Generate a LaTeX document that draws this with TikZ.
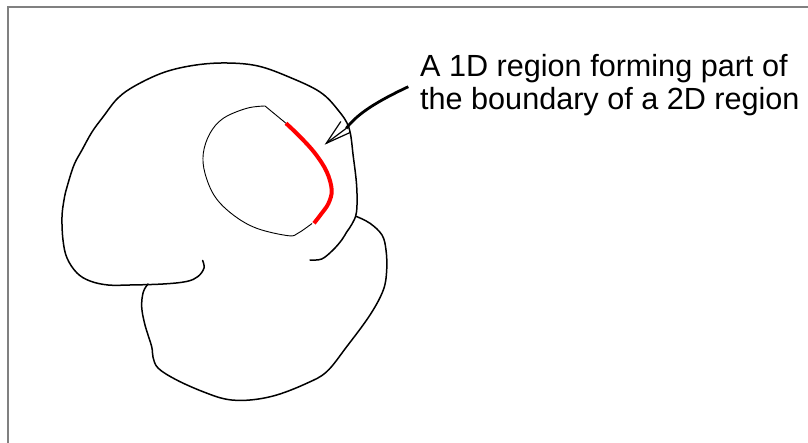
\documentclass[tikz,border=0pt]{standalone}
\usepackage{fontspec}
\setmainfont{Liberation Sans}
\begin{document}
\begin{tikzpicture}[x=1pt,y=-1pt,
  frameline/.style={draw=black!50,line width=2pt},
  blob/.style={draw=black,line width=1.5pt,line join=round,line cap=round},
  thinline/.style={draw=black,line width=0.9pt,line join=round},
  boundary/.style={draw=red,line width=4pt},
  shaft/.style={draw=black,line width=2.8pt},
  head/.style={draw=black,line width=1.2pt,line cap=round},
  lbl/.style={inner sep=0pt,align=left,font=\fontsize{30.6}{33}\selectfont}]
\useasboundingbox (0,0) rectangle (808,443);
\fill[white] (0,0) rectangle (808,443);
% frame
\draw[frameline] (8,443) -- (8,7) -- (808,7);
% upper blob
\draw[blob] plot[smooth,tension=0.6] coordinates {
 (202.6,260.5) (204,268) (198,276.5) (186.5,281.5) (163,284) (130,285) (108,285)
 (90,281) (77,273) (67,258) (63,240) (62,217) (64,200) (67,187) (74,165) (82,150)
 (92,132) (103,117) (118,98) (136.5,85) (165,72) (196,65) (227,63) (258,66) (289,77)
 (320,92) (338,110) (349,128) (353.3,156.7) (356.7,186.7) (356.5,212) (352,224)
 (346.7,232) (341.7,240) (333,250) (321.7,259) (310,260)};
% lower blob
\draw[blob] plot[smooth,tension=0.6] coordinates {
 (148,284) (143.3,292) (141.7,307) (145,325) (151.7,346.7) (153,357) (158.3,368.3)
 (176.7,380) (203,391.7) (226.7,399.3) (250,400) (276.7,395) (306.7,383.3)
 (326.7,371.7) (346.7,346.7) (370,315) (383.3,290) (386.7,270) (386,250) (382,235)
 (370,223.3) (356.5,216.5)};
% inner region
\draw[thinline] plot[smooth,tension=0.6] coordinates {
 (265,106) (246.7,108.3) (223.3,118.3) (210,133.3) (203.3,153.3) (205,173.3)
 (215,196.7) (233.3,215) (256.7,228.3) (288.3,235.7) (298.3,233) (312,223.5)};
\draw[thinline] (265,106) -- (286,123.3);
% 1D boundary piece
\draw[boundary] plot[smooth,tension=0.6] coordinates {
 (286,123.3) (300,136.7) (315,153.3) (326.7,171.7) (331.7,190) (328.5,203.3)
 (321.7,213.3) (314,223.3)};
% label
\node[lbl,anchor=base west] (label) at (420,109.7) {A 1D region forming part of\\the boundary of a 2D region};
% arrow
\coordinate (s) at (408.3,86.7);
\coordinate (m) at (346.3,128.3);
\coordinate (tip) at (326.3,143.3);
\coordinate (b1) at (340.7,121.7);
\coordinate (b2) at (349.7,132.7);
\draw[shaft] (s) .. controls (378,101) and (358,113) .. (m);
\draw[head] (m) -- (tip);
\draw[head] (b1) -- (tip) -- (b2);
\end{tikzpicture}
\end{document}
